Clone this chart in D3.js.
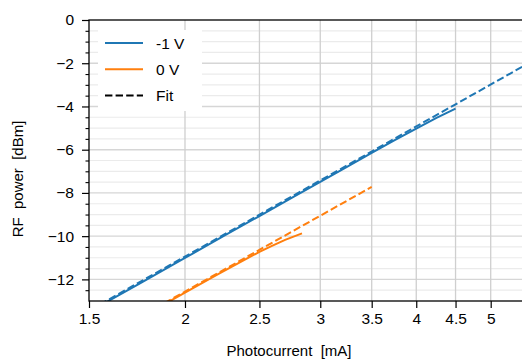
<!DOCTYPE html>
<html>
<head>
<meta charset="utf-8">
<script src="https://cdn.jsdelivr.net/npm/d3@7"></script>
<style>
  html, body { margin: 0; padding: 0; background: #fff; }
  svg { display: block; font-family: "Liberation Sans", Arial, sans-serif; }
</style>
</head>
<body>
<svg id="chart" width="522" height="359"></svg>
<script>
// ---- data ----
const blueCurrent = [1.55, 1.75, 2.0, 2.25, 2.5, 2.75, 3.0, 3.25, 3.5, 3.75, 4.0, 4.25, 4.5];
const bluePower   = [-13.22, -12.17, -11.01, -9.98, -9.07, -8.24, -7.49, -6.79, -6.15, -5.56, -5.02, -4.53, -4.1];

const orangeCurrent = [1.88, 2.0, 2.2, 2.4, 2.5, 2.6, 2.7, 2.84];
const orangePower   = [-13.15, -12.61, -11.79, -11.06, -10.73, -10.44, -10.17, -9.87];

const fitBlueCurrent = [1.55, 5.6];
const fitBluePower   = [-13.16, -2.0];
const fitOrangeCurrent = [1.88, 3.5];
const fitOrangePower   = [-13.1, -7.72];

const xTickValues = [1.5, 2, 2.5, 3, 3.5, 4, 4.5, 5];
const xTickLabels = ["1.5", "2", "2.5", "3", "3.5", "4", "4.5", "5"];
const yTickValues = [0, -2, -4, -6, -8, -10, -12];
const yMinorValues = d3.range(-25, 1).map(d => d / 2); // every 0.5 dB

const legendLabels = ["-1 V", "0 V", "Fit"];
const colors = ["#1f77b4", "#ff7f0e", "#000000"];

// ---- layout ----
const svg = d3.select("#chart");
const L = 89, R = 522.5, T = 20, B = 301;

const x = d3.scaleLog().domain([1.5, 5.5]).range([L, R]);
const y = d3.scaleLinear().domain([-13, 0]).range([B, T]);

svg.append("defs").append("clipPath").attr("id", "clip")
  .append("rect").attr("x", L).attr("y", T).attr("width", R - L).attr("height", B - T);

// grid
const grid = svg.append("g");
grid.selectAll("line.hminor").data(yMinorValues.filter(v => v > -13 && v < 0))
  .join("line")
  .attr("x1", L).attr("x2", R)
  .attr("y1", d => y(d)).attr("y2", d => y(d))
  .attr("stroke", d => (d % 2 === 0) ? "#d6d6d6" : "#ebebeb")
  .attr("stroke-width", d => (d % 2 === 0) ? 1.4 : 1.2);
grid.selectAll("line.v").data(xTickValues.filter(v => v > 1.5))
  .join("line")
  .attr("x1", d => x(d)).attr("x2", d => x(d))
  .attr("y1", T).attr("y2", B)
  .attr("stroke", "#cfcfcf").attr("stroke-width", 1.3);

// data
const plot = svg.append("g").attr("clip-path", "url(#clip)");
const line = d3.line().x(d => x(d[0])).y(d => y(d[1]));
const zip = (a, b) => a.map((v, i) => [v, b[i]]);

plot.append("path").datum(zip(blueCurrent, bluePower)).attr("d", line)
  .attr("fill", "none").attr("stroke", colors[0]).attr("stroke-width", 2);
plot.append("path").datum(zip(orangeCurrent, orangePower)).attr("d", line)
  .attr("fill", "none").attr("stroke", colors[1]).attr("stroke-width", 2);
plot.append("path").datum(zip(fitBlueCurrent, fitBluePower)).attr("d", line)
  .attr("fill", "none").attr("stroke", colors[0]).attr("stroke-width", 2)
  .attr("stroke-dasharray", "7.4,3.2");
plot.append("path").datum(zip(fitOrangeCurrent, fitOrangePower)).attr("d", line)
  .attr("fill", "none").attr("stroke", colors[1]).attr("stroke-width", 2)
  .attr("stroke-dasharray", "7.4,3.2");

// axes
const xAxis = d3.axisBottom(x).tickValues(xTickValues)
  .tickFormat((d, i) => xTickLabels[i]).tickSizeInner(7).tickSizeOuter(0).tickPadding(5);
const gx = svg.append("g").attr("transform", `translate(0,${B})`).call(xAxis);
gx.select(".domain").remove();
gx.selectAll(".tick line").attr("stroke", "#000").attr("stroke-width", 1.2);
gx.selectAll(".tick text").attr("font-size", 15.5).attr("fill", "#000")
  .attr("font-family", "Liberation Sans, Arial, sans-serif");

const yAxis = d3.axisLeft(y).tickValues(yTickValues)
  .tickFormat(d => d === 0 ? "0" : "\u2212" + Math.abs(d))
  .tickSizeInner(7).tickSizeOuter(0).tickPadding(8);
const gy = svg.append("g").attr("transform", `translate(${L},0)`).call(yAxis);
gy.select(".domain").remove();
gy.selectAll(".tick line").attr("stroke", "#000").attr("stroke-width", 1.2);
gy.selectAll(".tick text").attr("font-size", 15.5).attr("fill", "#000")
  .attr("font-family", "Liberation Sans, Arial, sans-serif");

const yMinorAxis = d3.axisLeft(y).tickValues(yMinorValues.filter(v => v % 2 !== 0))
  .tickFormat("").tickSizeInner(3.5).tickSizeOuter(0);
const gym = svg.append("g").attr("transform", `translate(${L},0)`).call(yMinorAxis);
gym.select(".domain").remove();
gym.selectAll(".tick line").attr("stroke", "#000").attr("stroke-width", 1.1);

// spines
svg.append("rect").attr("x", L).attr("y", T).attr("width", R - L + 2).attr("height", B - T)
  .attr("fill", "none").attr("stroke", "#000").attr("stroke-width", 1.3);

// legend
const lg = svg.append("g");
lg.append("rect").attr("x", 98).attr("y", 30).attr("width", 104).attr("height", 81)
  .attr("fill", "#fff");
legendLabels.forEach((lab, i) => {
  const yy = 43 + i * 26.3;
  lg.append("line").attr("x1", 105).attr("x2", 143).attr("y1", yy).attr("y2", yy)
    .attr("stroke", colors[i]).attr("stroke-width", 2)
    .attr("stroke-dasharray", i === 2 ? "7.4,3.2" : null);
  lg.append("text").attr("x", 156).attr("y", yy + 5.5).text(lab)
    .attr("font-size", 15.5).attr("fill", "#000");
});

// axis labels
svg.append("text").attr("x", 289).attr("y", 356).attr("text-anchor", "middle")
  .attr("font-size", 15).attr("fill", "#000").text("Photocurrent  [mA]")
  .style("white-space", "pre");
svg.append("text").attr("transform", "translate(23,179) rotate(-90)")
  .attr("text-anchor", "middle").attr("font-size", 15).attr("fill", "#000")
  .text("RF  power  [dBm]").style("white-space", "pre");
</script>
</body>
</html>
